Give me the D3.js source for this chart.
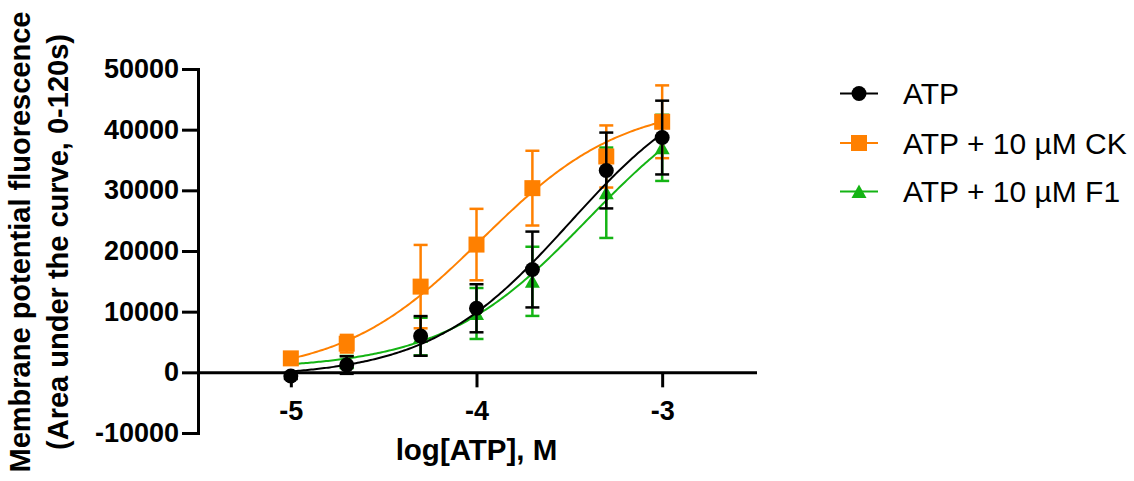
<!DOCTYPE html>
<html>
<head>
<meta charset="utf-8">
<script src="https://cdn.jsdelivr.net/npm/d3@7"></script>
<style>
  body { margin: 0; background: #fff; }
  svg { display: block; }
  text { font-family: "Liberation Sans", Arial, Helvetica, sans-serif; fill: #000; }
</style>
</head>
<body>
<svg id="chart" width="1134" height="481"></svg>
<script>
// Concentrations (log molar)
const logDose = [-5, -4.699, -4.301, -4, -3.699, -3.301, -3];

// Series labels
const seriesNames = ["ATP", "ATP + 10 µM CK", "ATP + 10 µM F1"];

// Mean and SD of area under the curve (0-120 s)
const atpMean = [-600, 1200, 6000, 10560, 16950, 33270, 38700];
const atpSD   = [500, 1450, 3270, 3960, 6250, 6250, 6080];
const ckMean  = [2300, 4720, 14130, 21060, 30360, 35580, 41300];
const ckSD    = [500, 1450, 6870, 5890, 6160, 5120, 6000];
const f1Mean  = [2100, 1700, 5900, 9700, 15000, 29600, 37000];
const f1SD    = [500, 1000, 3100, 4200, 5700, 7450, 5450];

// Four-parameter logistic fits: bottom, top, logEC50, Hill slope
const atpFit = [-800, 50000, -3.5, 1.15];
const ckFit  = [-500, 44500, -3.97, 1.15];
const f1Fit  = [500, 50000, -3.4, 1.1];

// Axis ticks
const yTicks = [-10000, 0, 10000, 20000, 30000, 40000, 50000];
const xTicks = [-5, -4, -3];

const svg = d3.select("#chart");

const x = d3.scaleLinear().domain([-5.5, -2.5]).range([198, 755]);
const y = d3.scaleLinear().domain([-10000, 50000]).range([433, 69]);

const series = [
  { name: seriesNames[0], mean: atpMean, sd: atpSD, fit: atpFit, color: "#000000", shape: "circle" },
  { name: seriesNames[1], mean: ckMean,  sd: ckSD,  fit: ckFit,  color: "#FF8000", shape: "square" },
  { name: seriesNames[2], mean: f1Mean,  sd: f1SD,  fit: f1Fit,  color: "#14B414", shape: "triangle" }
];

// Marker drawing helper
function drawMarker(g, shape, cx, cy, color) {
  if (shape === "circle") {
    g.append("circle").attr("cx", cx).attr("cy", cy).attr("r", 7.5).attr("fill", color);
  } else if (shape === "square") {
    g.append("rect").attr("x", cx - 8).attr("y", cy - 8)
      .attr("width", 16).attr("height", 16).attr("fill", color);
  } else {
    g.append("path")
      .attr("d", `M${cx},${cy - 7} L${cx + 7.5},${cy + 6.5} L${cx - 7.5},${cy + 6.5} Z`)
      .attr("fill", color);
  }
}

// Plain hyphen-minus for negative tick labels
const plainFormat = d => String(d);

// Axes
const yAxis = d3.axisLeft(y).tickValues(yTicks).tickSize(16).tickSizeOuter(0).tickPadding(3)
  .tickFormat(plainFormat);
const gy = svg.append("g").attr("transform", `translate(${x.range()[0]},0)`).call(yAxis);

const xAxis = d3.axisBottom(x).tickValues(xTicks).tickSize(15).tickSizeOuter(0).tickPadding(14)
  .tickFormat(plainFormat);
const gx = svg.append("g").attr("transform", `translate(0,${y(0)})`).call(xAxis);

[gy, gx].forEach(g => {
  g.select(".domain").attr("stroke", "#000").attr("stroke-width", 3).attr("stroke-linecap", "square");
  g.selectAll(".tick line").attr("stroke", "#000").attr("stroke-width", 3);
  g.selectAll(".tick text").attr("font-size", 27).attr("font-weight", "bold")
    .attr("font-family", "Liberation Sans, Arial, sans-serif").attr("fill", "#000");
});

// Axis titles
svg.append("text")
  .attr("x", (x.range()[0] + x.range()[1]) / 2).attr("y", 460)
  .attr("text-anchor", "middle").attr("font-size", 29.5).attr("font-weight", "bold")
  .text("log[ATP], M");

const yTitle = svg.append("text")
  .attr("transform", "translate(30,242) rotate(-90)")
  .attr("text-anchor", "middle").attr("font-size", 29).attr("font-weight", "bold");
yTitle.append("tspan").attr("x", 0).attr("y", 0).text("Membrane potential fluorescence");
yTitle.append("tspan").attr("x", 0).attr("y", 38).text("(Area under the curve, 0-120s)");

// Data: draw F1 first, then CK, then ATP on top
const curveX = d3.range(logDose[0], logDose[logDose.length - 1] + 0.0001, 0.01);
const line = d3.line().x(d => x(d[0])).y(d => y(d[1]));

[series[2], series[1], series[0]].forEach(s => {
  const g = svg.append("g");
  const [bottom, top, ec50, hill] = s.fit;
  const pts = curveX.map(v => [v, bottom + (top - bottom) / (1 + Math.pow(10, (ec50 - v) * hill))]);
  g.append("path").attr("d", line(pts)).attr("fill", "none")
    .attr("stroke", s.color).attr("stroke-width", 2);

  logDose.forEach((ld, i) => {
    const cx = x(ld);
    const hi = y(s.mean[i] + s.sd[i]);
    const lo = y(s.mean[i] - s.sd[i]);
    g.append("line").attr("x1", cx).attr("x2", cx).attr("y1", hi).attr("y2", lo)
      .attr("stroke", s.color).attr("stroke-width", 2.5);
    [hi, lo].forEach(cy => {
      g.append("line").attr("x1", cx - 7).attr("x2", cx + 7).attr("y1", cy).attr("y2", cy)
        .attr("stroke", s.color).attr("stroke-width", 2.5);
    });
  });
  logDose.forEach((ld, i) => drawMarker(g, s.shape, x(ld), y(s.mean[i]), s.color));
});

// Legend
const legend = svg.append("g");
const legendRows = [93.5, 143, 191.5];
series.forEach((s, i) => {
  const ly = legendRows[i];
  legend.append("line").attr("x1", 840).attr("x2", 878).attr("y1", ly).attr("y2", ly)
    .attr("stroke", s.color).attr("stroke-width", 2);
  drawMarker(legend, s.shape, 859, ly, s.color);
  legend.append("text").attr("x", 903).attr("y", ly + 10.5)
    .attr("font-size", 30).text(s.name);
});
</script>
</body>
</html>
